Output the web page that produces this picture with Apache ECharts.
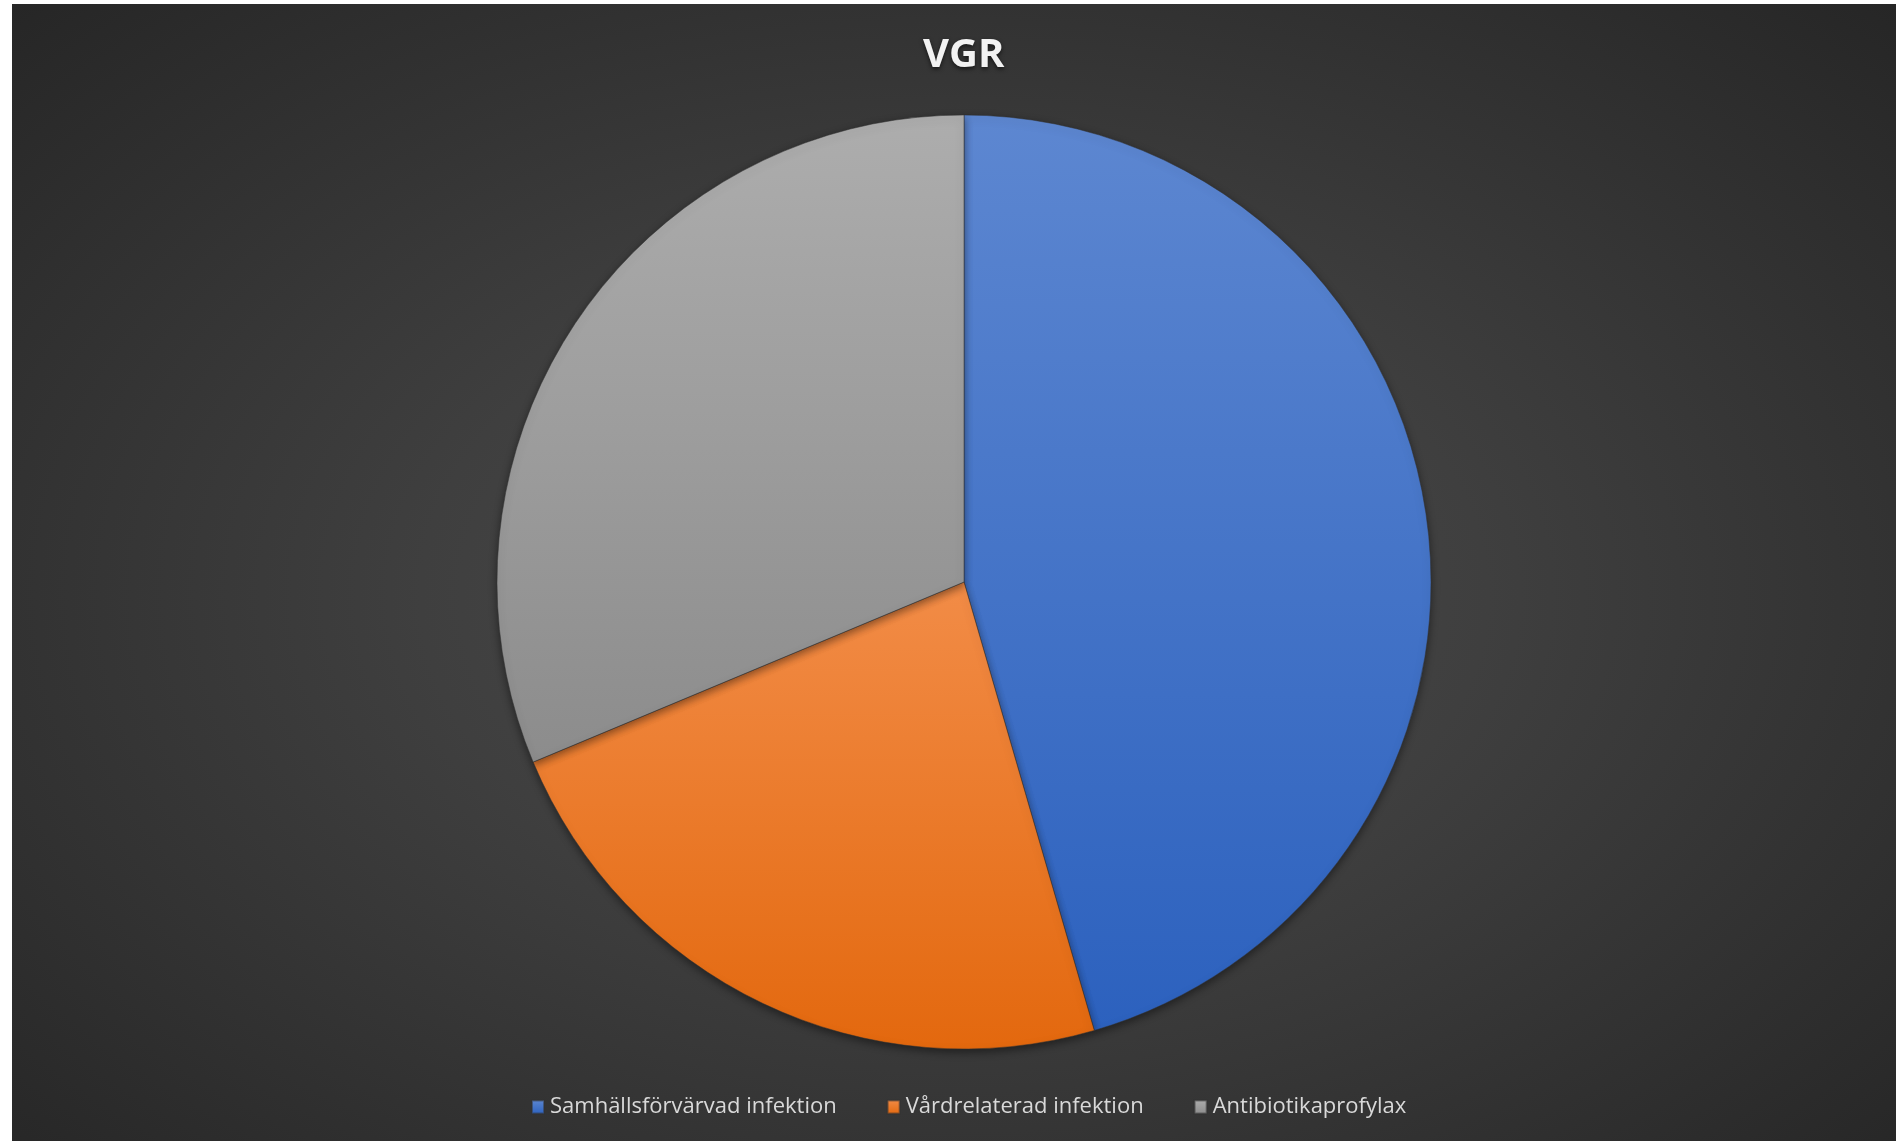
<!DOCTYPE html>
<html>
<head>
<meta charset="utf-8">
<script src="https://cdn.jsdelivr.net/npm/echarts@6/dist/echarts.min.js"></script>
<style>
html,body{margin:0;padding:0;background:#fff;width:1896px;height:1141px;overflow:hidden;}
#main{position:absolute;left:12px;top:4px;width:1884px;height:1137px;
 background:radial-gradient(ellipse at 50% 52%, #4c4c4c 0%, #3f3f3f 40%, #262626 100%);}
</style>
</head>
<body>
<div id="main"></div>
<script>
// VGR - fördelning per indikation
var categories = ['Samhällsförvärvad infektion', 'Vårdrelaterad infektion', 'Antibiotikaprofylax'];
var values = [45.5, 23.2, 31.3];
var topColors = ['#5d87d1', '#f28c47', '#adadad'];
var bottomColors = ['#2c61be', '#e3680e', '#8c8c8c'];

var pieData = [];
for (var i = 0; i < categories.length; i++) {
	pieData.push({
		name: categories[i],
		value: values[i],
		itemStyle: {
			color: new echarts.graphic.LinearGradient(0, 0, 0, 1, [
				{offset: 0, color: topColors[i]},
				{offset: 1, color: bottomColors[i]}
			])
		}
	});
}

var myChart = echarts.init(document.getElementById('main'));
var option = {
	backgroundColor: 'transparent',
	animation: false,
	title: {
		text: 'VGR',
		left: 906,
		top: 27,
		textStyle: {
			color: '#f2f2f2',
			fontFamily: 'Open Sans',
			fontWeight: 'bold',
			fontSize: 40,
			textShadowColor: 'rgba(0,0,0,0.6)',
			textShadowBlur: 4,
			textShadowOffsetY: 2
		}
	},
	legend: {
		bottom: 18,
		left: 514,
		itemWidth: 12,
		itemHeight: 13,
		itemGap: 50,
		icon: 'rect',
		data: categories,
		textStyle: {
			color: '#d9d9d9',
			fontFamily: 'Open Sans',
			fontSize: 22,
			padding: [0, 0, 0, 1]
		}
	},
	series: [{
		name: 'VGR',
		type: 'pie',
		center: [952, 578],
		radius: 467,
		startAngle: 90,
		clockwise: true,
		label: {show: false},
		labelLine: {show: false},
		emphasis: {disabled: true},
		itemStyle: {
			borderColor: 'rgba(50,50,50,0.5)',
			borderWidth: 1,
			shadowColor: 'rgba(0,0,0,0.45)',
			shadowBlur: 8,
			shadowOffsetY: 3
		},
		data: pieData
	}]
};
myChart.setOption(option);
</script>
</body>
</html>
